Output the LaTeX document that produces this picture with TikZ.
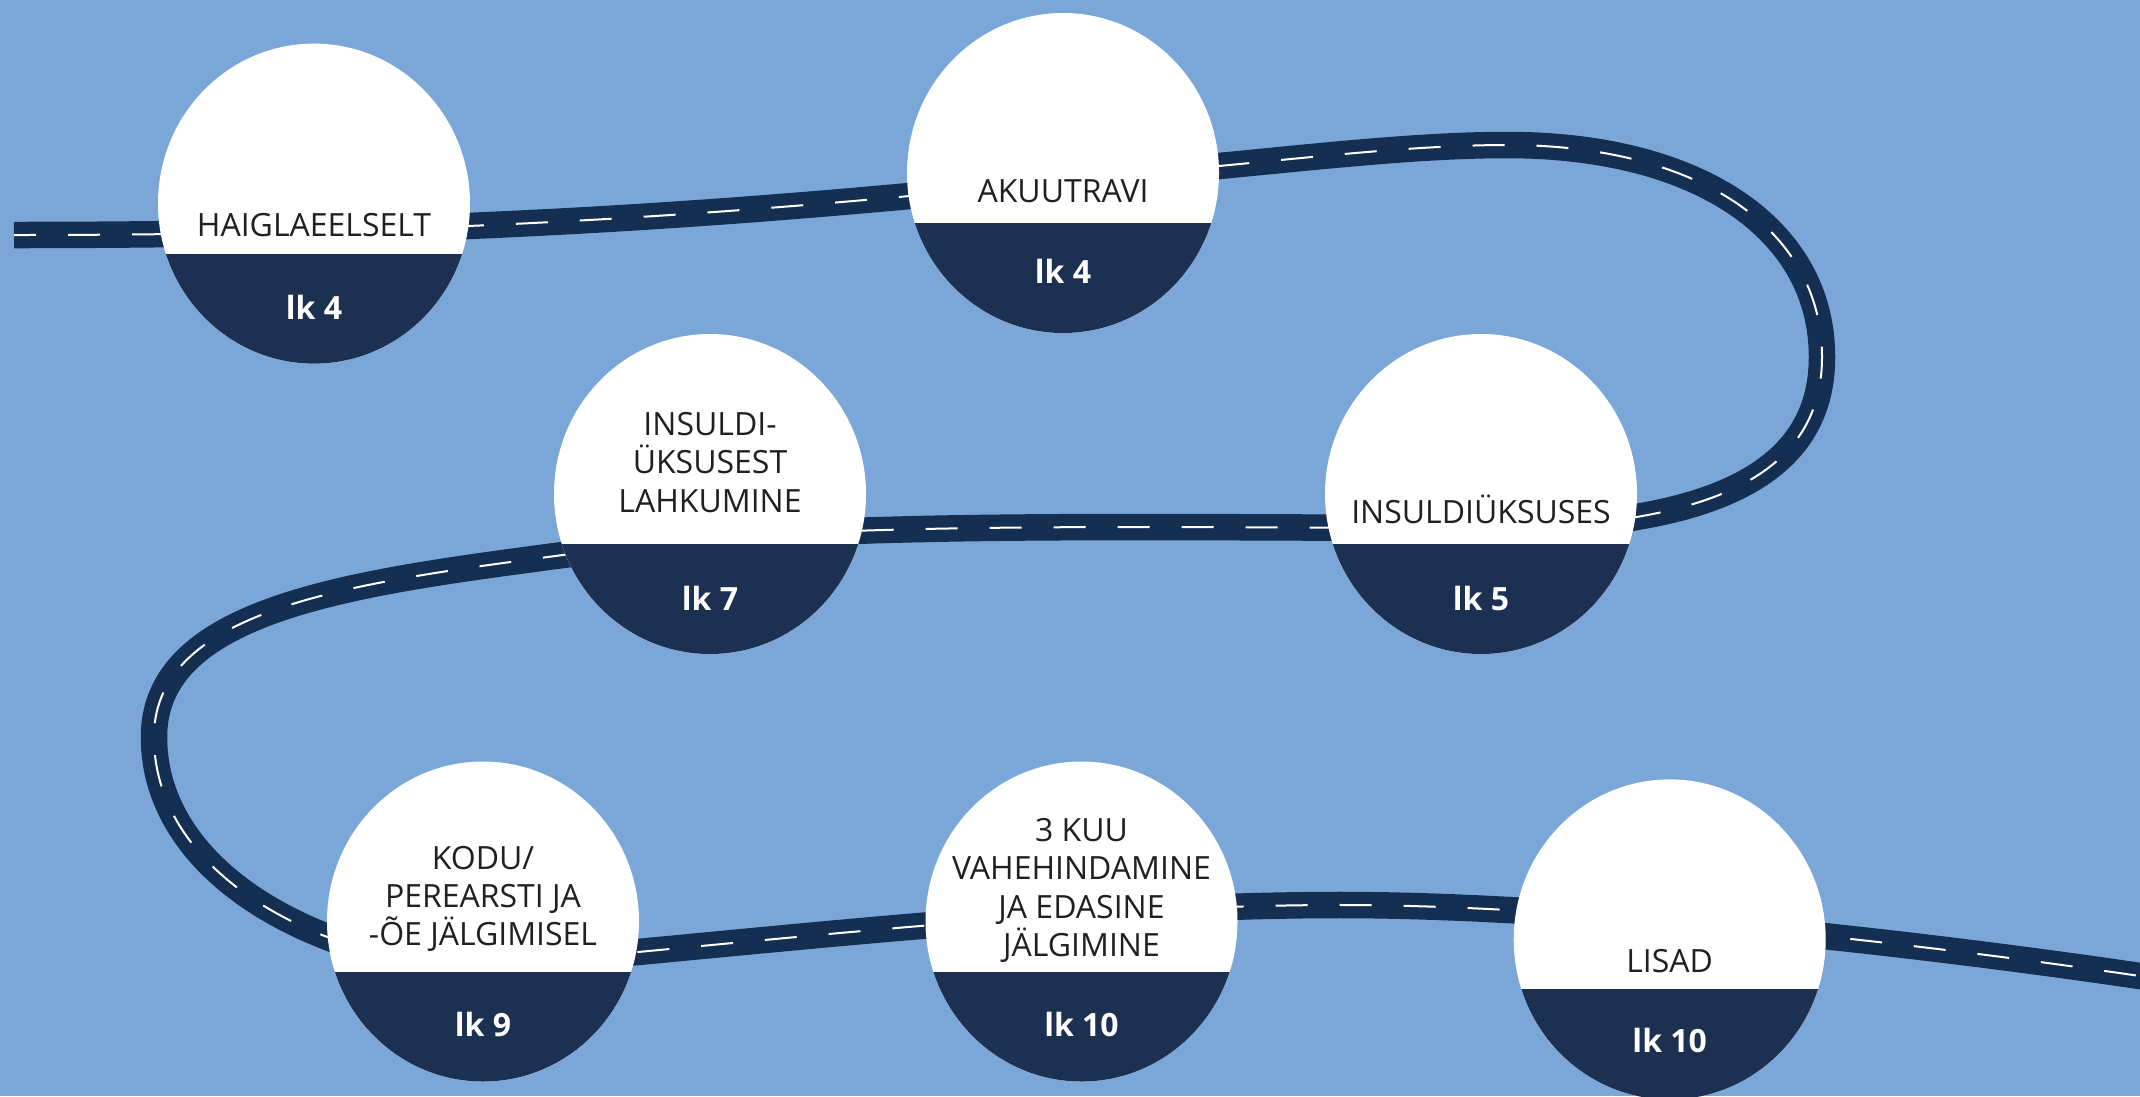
\documentclass[tikz,border=0pt]{standalone}
\usepackage{fontspec}
\setmainfont{Open Sans}
\usetikzlibrary{shapes.geometric}
\definecolor{bgblue}{HTML}{7BA7D8}
\definecolor{roadc}{HTML}{152F52}
\definecolor{navy}{HTML}{1C3052}
\definecolor{txt}{HTML}{231F20}
\begin{document}
\begin{tikzpicture}[x=1pt,y=-1pt,
  stop/.style={ellipse, minimum width=312pt, minimum height=320pt, inner sep=0pt, fill=white,
    path picture={\fill[navy] ([shift={(-200pt,-50pt)}]path picture bounding box.center) rectangle ([shift={(200pt,-250pt)}]path picture bounding box.center);}},
  title/.style={font=\fontsize{32}{38.4}\selectfont, text=txt, align=center, anchor=base, inner sep=0pt},
  page/.style={font=\fontsize{32}{38.4}\selectfont\bfseries, text=white, anchor=base, inner sep=0pt},
  road/.style={line width=26.5pt, draw=roadc, postaction={draw=white, line width=2pt, dash pattern=on 32pt off 32pt, dash phase=10pt}}
]
\useasboundingbox (0,0) rectangle (2140,1096);
\clip (0,0) rectangle (2140,1096);
\fill[bgblue] (0,0) rectangle (2140,1096);

% road
\coordinate (r0) at (14,235);
\draw[road] (r0)
  .. controls (250,235) and (470,229) .. (700,213)
  .. controls (900,199) and (1050,182) .. (1219,166)
  .. controls (1319,156.5) and (1420,145) .. (1507,145)
  .. controls (1700,145) and (1822,230) .. (1822,357)
  .. controls (1822,480) and (1700,528) .. (1481,528)
  .. controls (1150,528) and (820,520) .. (600,550)
  .. controls (380,580) and (154,600) .. (154,737)
  .. controls (154,830) and (230,900) .. (330,938)
  .. controls (400,965) and (550,960) .. (638,952)
  .. controls (850,932) and (1100,906) .. (1330,905)
  .. controls (1560,904) and (1900,940) .. (2160,979);

% stops
\node[stop] (c1) at (314,203.6) {};
\node[stop] (c2) at (1063,173) {};
\node[stop] (c3) at (710,494) {};
\node[stop] (c4) at (1481,494) {};
\node[stop] (c5) at (483,921.5) {};
\node[stop] (c6) at (1081.5,921.5) {};
\node[stop] (c7) at (1669.7,939.4) {};

% titles (base anchor = last line baseline)
\node[title] (t1) at (314,236) {HAIGLAEELSELT};
\node[title] (t2) at (1063,202.7) {AKUUTRAVI};
\node[title] (t3) at (710,512) {INSULDI-\\ÜKSUSEST\\LAHKUMINE};
\node[title] (t4) at (1481,523.2) {INSULDIÜKSUSES};
\node[title] (t5) at (483,945.8) {KODU/\\PEREARSTI JA\\-ÕE JÄLGIMISEL};
\node[title] (t6) at (1081.5,956.7) {3 KUU\\VAHEHINDAMINE\\JA EDASINE\\JÄLGIMINE};
\node[title] (t7) at (1669.7,972.7) {LISAD};

% pages
\node[page] (p1) at (314,319.3) {lk 4};
\node[page] (p2) at (1063,283.3) {lk 4};
\node[page] (p3) at (710,610.2) {lk 7};
\node[page] (p4) at (1481,610.2) {lk 5};
\node[page] (p5) at (483,1036.3) {lk 9};
\node[page] (p6) at (1081.5,1036) {lk 10};
\node[page] (p7) at (1669.7,1052) {lk 10};
\end{tikzpicture}
\end{document}
